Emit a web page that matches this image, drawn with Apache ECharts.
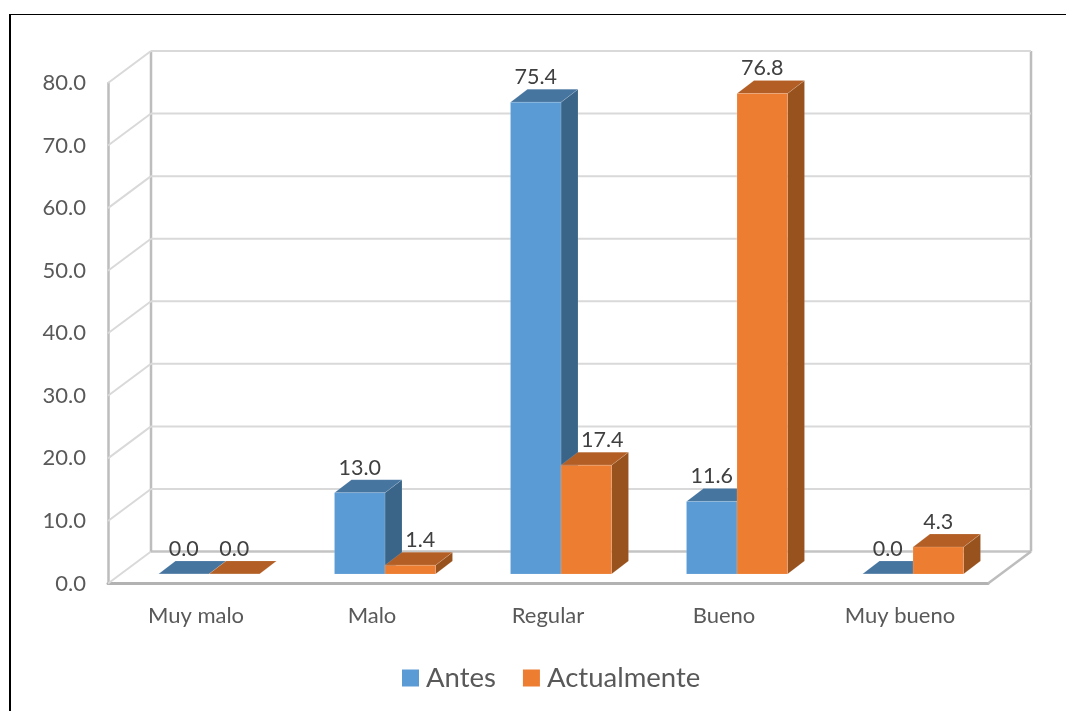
<!DOCTYPE html>
<html>
<head>
<meta charset="utf-8">
<script src="https://cdn.jsdelivr.net/npm/echarts@6/dist/echarts.min.js"></script>
<style>
html,body{margin:0;padding:0;background:#fff;overflow:hidden}
#frame{position:absolute;left:9px;top:14px;width:1057px;height:697px;border-top:1.5px solid #000;border-left:2px solid #000;box-sizing:border-box}
#c{position:absolute;left:0;top:0;width:1066px;height:711px}
</style>
</head>
<body>
<div id="frame"></div>
<div id="c"></div>
<script>
const categories = ['Muy malo', 'Malo', 'Regular', 'Bueno', 'Muy bueno'];
const antes = [0.0, 13.0, 75.4, 11.6, 0.0];
const actualmente = [0.0, 1.4, 17.4, 76.8, 4.3];
const ticks = [0, 10, 20, 30, 40, 50, 60, 70, 80];

const FONT = 'Lato';
const WALL = [43, -32];          // depth of the plot box
const BAR = [13, -9.5];          // where the bars stand inside the box
const DEPTH = [17, -13];         // depth of a bar
const BAR_RATIO = 0.287;
const nudgeAntes = [0, 0, 0, 0, 0];
const nudgeActualmente = [0, 10, 16, 0, 0];   // labels pushed clear of the neighbour bar

function wallItem(params, api) {
  const r = params.coordSys;
  const v = api.value(0);
  const y = api.coord([0, v])[1];
  const L = r.x, R = r.x + r.width;
  const light = { stroke: '#D9D9D9', lineWidth: 2, fill: null };
  const dark = { stroke: '#BDBDBD', lineWidth: 2.5, fill: null };
  const kids = [
    { type: 'polyline', shape: { points: [[L, y], [L + WALL[0], y + WALL[1]]] }, style: light },
    { type: 'polyline', shape: { points: [[L + WALL[0], y + WALL[1]], [R + WALL[0], y + WALL[1]]] },
      style: v === 0 ? { stroke: '#C4C4C4', lineWidth: 2.5, fill: null } : light }
  ];
  if (v === 0) {
    const top = api.coord([0, ticks[ticks.length - 1]])[1];
    kids.push(
      { type: 'line', shape: { x1: L + WALL[0], y1: y + WALL[1], x2: L + WALL[0], y2: top + WALL[1] }, style: dark },
      { type: 'line', shape: { x1: R + WALL[0], y1: y + WALL[1], x2: R + WALL[0], y2: top + WALL[1] }, style: dark },
      { type: 'line', shape: { x1: R, y1: y, x2: R + WALL[0], y2: y + WALL[1] }, style: dark }
    );
  }
  return { type: 'group', children: kids };
}

function barRenderer(side, front, topC, sideC, nudge) {
  return function (params, api) {
    const val = api.value(1);
    const p = api.coord([api.value(0), val]);
    const b = api.coord([api.value(0), 0]);
    const w = api.size([1, 0])[0] * BAR_RATIO;
    const x0 = p[0] + BAR[0] + (side < 0 ? -w : 0);
    const x1 = x0 + w;
    const yt = p[1] + BAR[1];
    const yb = b[1] + BAR[1];
    const dx = DEPTH[0], dy = DEPTH[1];
    const edge = 'rgba(255,255,255,0.25)';
    return {
      type: 'group',
      children: [
        { type: 'polygon', shape: { points: [[x1, yt], [x1 + dx, yt + dy], [x1 + dx, yb + dy], [x1, yb]] },
          style: { fill: sideC, stroke: edge, lineWidth: 0.5 } },
        { type: 'polygon', shape: { points: [[x0, yt], [x0 + dx, yt + dy], [x1 + dx, yt + dy], [x1, yt]] },
          style: { fill: topC, stroke: edge, lineWidth: 0.5 } },
        { type: 'rect', shape: { x: x0, y: yt, width: w, height: yb - yt },
          style: { fill: front, stroke: edge, lineWidth: 0.5 } },
        { type: 'text', x: (x0 + x1) / 2 + nudge[params.dataIndex], y: yt - 25, z2: 50,
          style: { text: val.toFixed(1), fill: '#404040', font: '21.5px ' + FONT, align: 'center', verticalAlign: 'middle' } }
      ]
    };
  };
}

const chart = echarts.init(document.getElementById('c'), null, { renderer: 'canvas' });
chart.setOption({
  animation: false,
  backgroundColor: 'transparent',
  grid: { left: 108, top: 83, width: 880, height: 500.5, containLabel: false },
  xAxis: {
    type: 'category', data: categories,
    axisLine: { show: true, lineStyle: { color: '#B2B2B2', width: 3 } },
    axisTick: { show: false },
    axisLabel: { margin: 21, fontFamily: FONT, fontSize: 22, color: '#595959' },
    splitLine: { show: false }
  },
  yAxis: {
    type: 'value', min: 0, max: 80, interval: 10,
    axisLine: { show: true, lineStyle: { color: '#BDBDBD', width: 2.5 } },
    axisTick: { show: false },
    axisLabel: { margin: 22, fontFamily: FONT, fontSize: 22, color: '#595959', padding: [6, 0, 0, 0], formatter: v => v.toFixed(1) },
    splitLine: { show: false }
  },
  legend: {
    left: 402, top: 664, padding: 0, itemWidth: 17, itemHeight: 17, itemGap: 27,
    icon: 'rect',
    data: ['Antes', 'Actualmente'],
    textStyle: { fontFamily: FONT, fontSize: 27.5, color: '#595959', padding: [0, 0, 0, 2] }
  },
  series: [
    { type: 'custom', name: 'walls', silent: true, data: ticks.map(t => [t]), encode: { y: 0 }, renderItem: wallItem, z: 1 },
    { type: 'custom', name: 'Antes', itemStyle: { color: '#5B9BD5' }, z: 2, encode: { x: 0, y: 1 },
      data: antes.map((v, i) => [i, v]),
      renderItem: barRenderer(-1, '#5B9BD5', '#4675A0', '#3A6589', nudgeAntes) },
    { type: 'custom', name: 'Actualmente', itemStyle: { color: '#ED7D31' }, z: 3, encode: { x: 0, y: 1 },
      data: actualmente.map((v, i) => [i, v]),
      renderItem: barRenderer(1, '#ED7D31', '#B25E24', '#97521E', nudgeActualmente) }
  ]
});
</script>
</body>
</html>
